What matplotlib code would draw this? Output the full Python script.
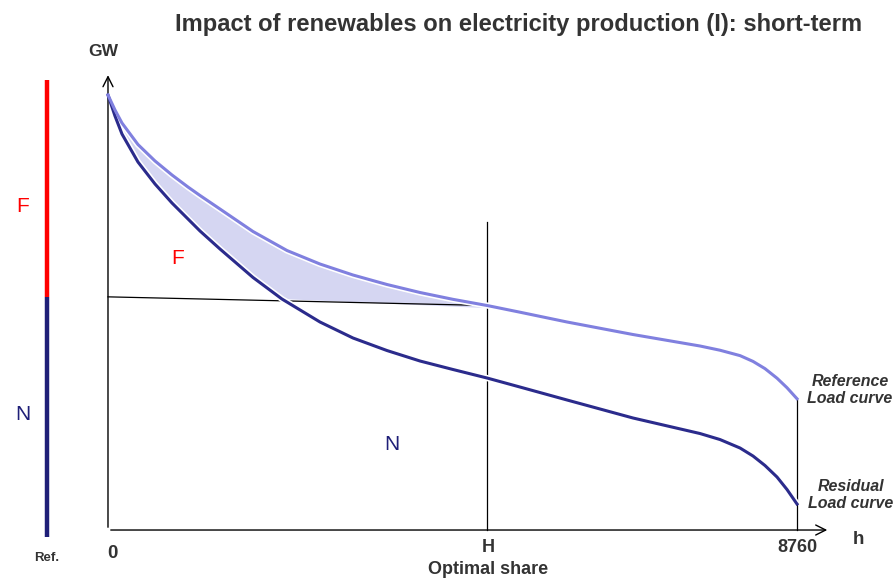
import numpy as np
import matplotlib.pyplot as plt

plt.rcParams['font.family'] = ['Liberation Sans', 'DejaVu Sans']

# load duration curves, hours vs GW (peak = 100)
ref_h = [0, 89, 178, 381, 598, 814, 1017, 1170, 1424, 1844, 2276, 2695, 3115, 3547,
         3967, 4386, 4820, 5238, 5836, 6675, 7527, 7781, 8036, 8201, 8353, 8506, 8633, 8760]
ref_gw = [100.0, 96.55, 93.56, 88.62, 84.83, 81.61, 78.85, 76.90, 73.79, 68.62, 64.25,
          61.15, 58.62, 56.44, 54.60, 53.03, 51.61, 50.07, 47.82, 44.94, 42.30, 41.33,
          40.09, 38.76, 37.10, 34.90, 32.71, 30.18]

res_h = [0, 89, 178, 381, 598, 814, 954, 1170, 1424, 1844, 2212, 2695, 3115, 3547,
         3967, 4386, 4820, 5238, 5836, 6675, 7527, 7781, 8036, 8201, 8353, 8506, 8633, 8760]
res_gw = [100.0, 95.17, 91.03, 84.60, 79.54, 75.17, 72.64, 68.74, 64.60, 58.05, 53.10,
          47.82, 44.14, 41.26, 38.85, 36.90, 34.94, 32.87, 29.89, 25.75, 22.18, 20.80,
          18.85, 17.01, 14.83, 12.18, 9.31, 5.98]

H = 4820           # optimal share hour
cross_h = 2212     # residual meets the split line
line_start = 53.6  # level of the F/N split at h=0
bar_top, bar_bottom = 103.4, -1.6
bar_x = -776

REF_C = '#8080df'
RES_C = '#2b2b8c'
FILL_C = '#d5d6f2'
NAVY = '#1f1f78'
TXT = '#333333'

fig = plt.figure(figsize=(8.95, 5.78), dpi=100)
ax = fig.add_axes([0, 0, 1, 1])
ax.set_xlim(-1373, 10006)
ax.set_ylim(-11.03, 121.84)
ax.axis('off')

def px(x, y):
    return x / 895, 1 - y / 578

# shaded area between the curves above the split line
ref_h = np.array(ref_h); ref_gw = np.array(ref_gw)
res_h = np.array(res_h); res_gw = np.array(res_gw)
k = ref_h <= H
j = res_h <= cross_h
poly_x = np.concatenate([ref_h[k], res_h[j][::-1]])
poly_y = np.concatenate([ref_gw[k] - 0.6, res_gw[j][::-1]])
ax.fill(poly_x, poly_y, color=FILL_C, lw=0, zorder=1)

# split line and verticals
ax.plot([0, H], [line_start, ref_gw[ref_h == H][0]], color='black', lw=0.9, zorder=2)
ax.plot([H, H], [0, 70.8], color='black', lw=0.9, zorder=2)
ax.plot([8760, 8760], [0, ref_gw[-1]], color='black', lw=0.9, zorder=2)

# curves with a white halo
ax.plot(ref_h, ref_gw, color='white', lw=4.5, zorder=3, solid_capstyle='butt')
ax.plot(res_h, res_gw, color='white', lw=4.5, zorder=3, solid_capstyle='butt')
ax.plot(res_h, res_gw, color=RES_C, lw=2.2, zorder=4, solid_joinstyle='round')
ax.plot(ref_h, ref_gw, color=REF_C, lw=2.2, zorder=5, solid_joinstyle='round')

# axis arrows
ax.annotate('', xy=(0, 105.2), xytext=(0, 0),
            arrowprops=dict(arrowstyle='->', color='black', lw=1.0, mutation_scale=18))
ax.annotate('', xy=(9180, 0), xytext=(0, 0),
            arrowprops=dict(arrowstyle='->', color='black', lw=1.0, mutation_scale=18))

# reference bar at the left
ax.plot([bar_x, bar_x], [line_start, bar_top], color='#ff0000', lw=3.2, solid_capstyle='butt')
ax.plot([bar_x, bar_x], [bar_bottom, line_start], color=NAVY, lw=3.2, solid_capstyle='butt')

# texts
fig.text(*px(519, 25), 'Impact of renewables on electricity production (I): short-term',
         ha='center', va='center', fontsize=17.1, fontweight='bold', color=TXT)
fig.text(*px(103, 52), 'GW', ha='center', va='center', fontsize=12.5, fontweight='bold', color=TXT)
fig.text(*px(112, 554), '0', ha='center', va='center', fontsize=13.5, fontweight='bold', color=TXT)
fig.text(*px(488, 548), 'H', ha='center', va='center', fontsize=13, fontweight='bold', color=TXT)
fig.text(*px(797, 548), '8760', ha='center', va='center', fontsize=13, fontweight='bold', color=TXT)
fig.text(*px(858, 540), 'h', ha='center', va='center', fontsize=13.5, fontweight='bold', color=TXT)
fig.text(*px(488, 569), 'Optimal share', ha='center', va='center', fontsize=13, fontweight='bold', color=TXT)
fig.text(*px(47, 558), 'Ref.', ha='center', va='center', fontsize=9.5, fontweight='bold', color=TXT)
fig.text(*px(850, 390), 'Reference\nLoad curve', ha='center', va='center', fontsize=11.5,
         fontweight='bold', style='italic', color=TXT, linespacing=1.2)
fig.text(*px(851, 495), 'Residual\nLoad curve', ha='center', va='center', fontsize=11.5,
         fontweight='bold', style='italic', color=TXT, linespacing=1.2)
fig.text(*px(23, 206), 'F', ha='center', va='center', fontsize=15, color='#ff0000')
fig.text(*px(23, 414), 'N', ha='center', va='center', fontsize=15, color=NAVY)
fig.text(*px(178, 258), 'F', ha='center', va='center', fontsize=15, color='#ff0000')
fig.text(*px(392, 445), 'N', ha='center', va='center', fontsize=15, color=NAVY)

fig.savefig('out.png', dpi=100)
